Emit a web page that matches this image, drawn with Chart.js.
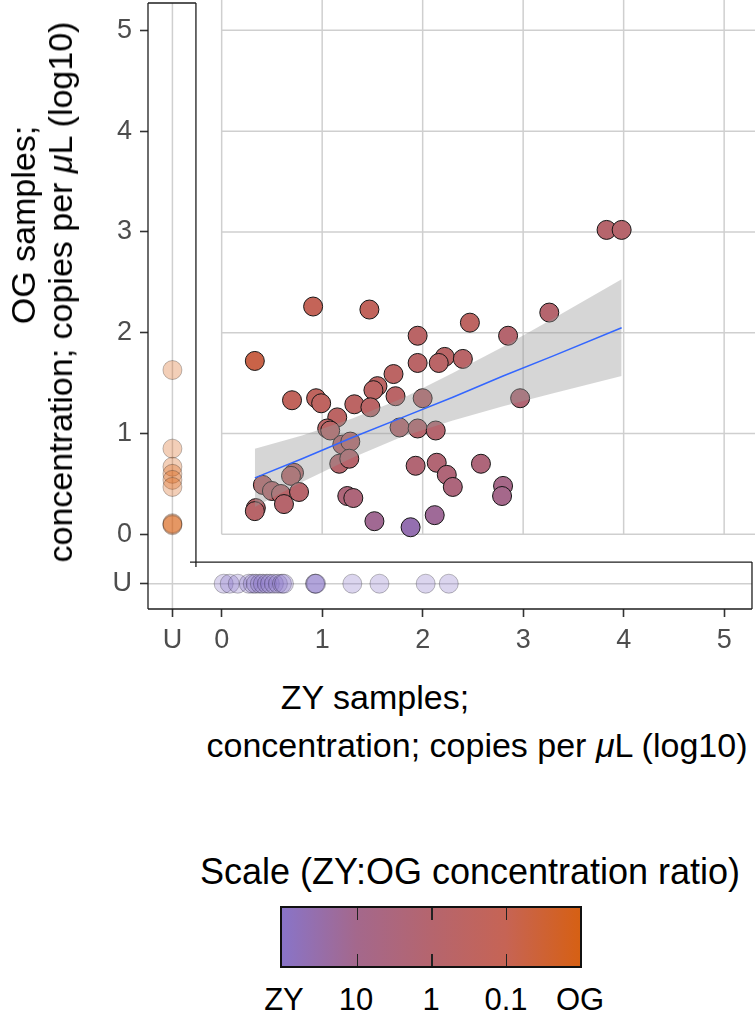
<!DOCTYPE html>
<html>
<head>
<meta charset="utf-8">
<script src="https://cdn.jsdelivr.net/npm/chart.js@4.4.1/dist/chart.umd.min.js"></script>
<style>
  body { margin: 0; background: #fff; font-family: "Liberation Sans", Arial, sans-serif; }
  #wrap { position: relative; width: 755px; height: 1012px; overflow: hidden; }
  #graph { position: absolute; left: 0; top: 0; }
  .t { position: absolute; white-space: nowrap; line-height: 1; color: #000; transform: translate(-50%, -50%); }
  .rot { transform: translate(-50%, -50%) rotate(-90deg); }
  .ttl { font-size: 34px; }
  #bar { position: absolute; left: 280px; top: 906px; width: 298px; height: 58px; border: 2px solid #111;
         background: linear-gradient(to right, rgb(137,116,200), rgb(164,104,140) 25%, rgb(181,101,110) 50%, rgb(198,100,85) 75%, rgb(214,96,20)); }
  .btick { position: absolute; width: 1.5px; height: 12px; background: #222; }
  .lab { font-size: 31px; }
</style>
</head>
<body>
<div id="wrap">
  <canvas id="graph" width="755" height="660"></canvas>

  <div class="t rot ttl" style="left:23px; top:225px;">OG samples;</div>
  <div class="t rot ttl" style="left:60px; top:292px;">concentration; copies per <i>μ</i>L (log10)</div>

  <div class="t ttl" style="left:375px; top:697px;">ZY samples;</div>
  <div class="t ttl" style="left:477px; top:745px;">concentration; copies per <i>μ</i>L (log10)</div>

  <div class="t" style="left:470px; top:872px; font-size:36px;">Scale (ZY:OG concentration ratio)</div>
  <div id="bar">
    <div class="btick" style="left:25%; top:0;"></div>
    <div class="btick" style="left:25%; bottom:0;"></div>
    <div class="btick" style="left:50%; top:0;"></div>
    <div class="btick" style="left:50%; bottom:0;"></div>
    <div class="btick" style="left:75%; top:0;"></div>
    <div class="btick" style="left:75%; bottom:0;"></div>
  </div>
  <div class="t lab" style="left:284px; top:999px;">ZY</div>
  <div class="t lab" style="left:356px; top:999px;">10</div>
  <div class="t lab" style="left:431px; top:999px;">1</div>
  <div class="t lab" style="left:506px; top:999px;">0.1</div>
  <div class="t lab" style="left:580px; top:999px;">OG</div>
</div>

<script>
// value used for "undetected" on both axes
const U = -0.49;

// paired samples: ZY and OG concentrations (log10)
const zyBoth = [0.91, 1.47, 2.47, 0.33, 1.95, 2.22, 2.16, 2.40, 1.95, 1.71, 1.55, 1.51, 1.73, 2.00, 0.70, 0.94,
                0.99, 1.32, 1.48, 1.15, 1.05, 1.08, 1.77, 1.95, 2.13, 1.20, 1.28, 1.17, 1.27, 1.93, 2.14, 2.24,
                2.30, 2.58, 0.72, 0.69, 0.41, 0.50, 0.59, 0.77, 0.62, 0.34, 0.33, 1.25, 1.31, 1.52, 1.88, 2.12,
                3.83, 3.98, 3.26, 2.85, 2.97, 2.80, 2.79];
const ogBoth = [2.26, 2.23, 2.10, 1.72, 1.97, 1.76, 1.70, 1.74, 1.70, 1.59, 1.47, 1.43, 1.37, 1.35, 1.33, 1.35,
                1.30, 1.29, 1.26, 1.16, 1.05, 1.03, 1.06, 1.05, 1.03, 0.89, 0.92, 0.70, 0.75, 0.68, 0.71, 0.59,
                0.47, 0.70, 0.61, 0.58, 0.49, 0.43, 0.40, 0.42, 0.30, 0.26, 0.23, 0.38, 0.36, 0.13, 0.07, 0.19,
                3.02, 3.02, 2.20, 1.97, 1.35, 0.48, 0.38];
// ZY:OG ratio of each paired sample (log10)
const ratioLog = [-0.88, -0.72, -0.48, -1.2, -0.32, -0.32, -0.28, -0.24, -0.28, -0.4, -0.4, -0.4, -0.28, -0.2, -0.72, -0.64,
                  -0.56, -0.4, -0.32, -0.4, -0.32, -0.32, -0.08, -0.08, 0, -0.2, -0.2, -0.08, -0.08, 0.2, 0.2, 0.32,
                  0.48, 0.4, -0.24, -0.24, -0.24, -0.2, -0.2, -0.12, -0.08, -0.2, -0.2, 0.4, 0.4, 1.12, 1.6, 1.2,
                  -0.08, -0.08, 0, 0, 0.2, 0.88, 0.96];

// only one site detected
const ogOnly = [1.63, 0.85, 0.67, 0.60, 0.54, 0.47, 0.11, 0.09, 0.10];
const zyOnly = [0.02, 0.08, 0.16, 0.27, 0.31, 0.34, 0.38, 0.41, 0.45, 0.48, 0.52, 0.56, 0.60, 0.62,
                0.93, 0.93, 0.94, 1.30, 1.57, 2.03, 2.26];

// linear fit with 95% band
const fitX     = [0.33, 0.8, 1.3, 1.8, 2.3, 2.8, 3.3, 3.98];
const fitY     = [0.56, 0.75, 0.96, 1.16, 1.36, 1.57, 1.77, 2.05];
const fitUpper = [0.85, 0.98, 1.15, 1.35, 1.60, 1.86, 2.14, 2.53];
const fitLower = [0.27, 0.52, 0.76, 0.97, 1.13, 1.27, 1.40, 1.57];

const tickValues = [U, 0, 1, 2, 3, 4, 5];
const tickLabels = ['U', '0', '1', '2', '3', '4', '5'];
const gridValues = [0, 1, 2, 3, 4, 5];

// colour scale ZY -> 10 -> 1 -> 0.1 -> OG
const scaleStops = [[137, 116, 200], [164, 104, 140], [181, 101, 110], [198, 100, 85], [214, 96, 20]];

function scaleColour(t, alpha) {
    t = Math.max(0, Math.min(1, t)) * 4;
    const i = Math.min(3, Math.floor(t));
    const f = t - i;
    const a = scaleStops[i], b = scaleStops[i + 1];
    const c = a.map((v, k) => Math.round(v + (b[k] - v) * f));
    return `rgba(${c[0]},${c[1]},${c[2]},${alpha})`;
}

const pts = (xs, ys) => xs.map((x, i) => ({ x: x, y: ys[i] }));

// frame pieces of the panel, in axis units
const frame = { left: -0.733, right: 5.277, bottom: -0.741, top: 5.271,
                stripRight: -0.256, stripEnd: -0.324, stripTop: -0.275, stripStart: -0.315 };

const panelLines = {
    id: 'panelLines',
    beforeDatasetsDraw(chart) {
        const { ctx, scales: { x, y } } = chart;
        const seg = (x1, y1, x2, y2) => {
            ctx.beginPath();
            ctx.moveTo(x.getPixelForValue(x1), y.getPixelForValue(y1));
            ctx.lineTo(x.getPixelForValue(x2), y.getPixelForValue(y2));
            ctx.stroke();
        };
        ctx.save();
        ctx.strokeStyle = '#cfcfcf';
        ctx.lineWidth = 1.5;
        gridValues.forEach(v => {
            seg(v, 0, v, y.max);
            seg(0, v, x.max, v);
        });
        seg(U, frame.bottom, U, frame.top);
        seg(frame.left, U, frame.right, U);

        ctx.strokeStyle = '#1e1e1e';
        ctx.lineWidth = 1.3;
        seg(frame.left, frame.top, frame.left, frame.bottom);
        seg(frame.left, frame.bottom, frame.right, frame.bottom);
        seg(frame.right, frame.bottom, frame.right, frame.stripTop);
        seg(frame.left, frame.top, frame.stripRight, frame.top);
        seg(frame.stripRight, frame.top, frame.stripRight, frame.stripEnd);
        seg(frame.stripStart, frame.stripTop, frame.right, frame.stripTop);
        ctx.restore();
    }
};

const axisTicks = (scale) => { scale.ticks = tickValues.map(v => ({ value: v })); };
const tickText = (v) => tickLabels[tickValues.indexOf(v)];
const noPadding = (s) => { s.paddingTop = 0; s.paddingBottom = 0; s.paddingLeft = 0; s.paddingRight = 0; };

new Chart(document.querySelector('#graph').getContext('2d'), {
    type: 'scatter',
    data: {
        datasets: [
            {
                type: 'line',
                data: pts(fitX, fitY),
                borderColor: '#3366FF',
                borderWidth: 1.5,
                pointRadius: 0,
                order: 0
            },
            {
                type: 'line',
                data: pts(fitX, fitUpper),
                borderWidth: 0,
                pointRadius: 0,
                fill: '+1',
                backgroundColor: 'rgba(153,153,153,0.4)',
                order: 1
            },
            {
                type: 'line',
                data: pts(fitX, fitLower),
                borderWidth: 0,
                pointRadius: 0,
                fill: false,
                order: 1
            },
            {
                data: pts(zyBoth, ogBoth),
                backgroundColor: ratioLog.map(r => scaleColour(0.5 - r / 4, 1)),
                borderColor: '#151515',
                borderWidth: 1,
                pointRadius: 9.5,
                order: 2
            },
            {
                data: ogOnly.map(v => ({ x: U, y: v })),
                backgroundColor: scaleColour(1, 0.3),
                borderColor: 'rgba(0,0,0,0.25)',
                borderWidth: 1,
                pointRadius: 9.5,
                order: 3
            },
            {
                data: zyOnly.map(v => ({ x: v, y: U })),
                backgroundColor: scaleColour(0, 0.3),
                borderColor: 'rgba(0,0,0,0.25)',
                borderWidth: 1,
                pointRadius: 9.5,
                order: 3
            }
        ]
    },
    options: {
        responsive: false,
        animation: false,
        layout: { padding: 0, autoPadding: false },
        plugins: { legend: { display: false }, tooltip: { enabled: false } },
        scales: {
            x: {
                type: 'linear',
                min: -0.733,
                max: 5.307,
                afterBuildTicks: axisTicks,
                afterFit: (s) => { s.height = 51; noPadding(s); },
                ticks: {
                    autoSkip: false,
                    maxRotation: 0,
                    callback: tickText,
                    color: '#4d4d4d',
                    padding: 7,
                    font: { family: '"Liberation Sans", Arial, sans-serif', size: 27 }
                },
                grid: { drawOnChartArea: false, tickLength: 8, tickColor: '#333', tickWidth: 1.6 },
                border: { display: false }
            },
            y: {
                type: 'linear',
                min: -0.741,
                max: 5.301,
                afterBuildTicks: axisTicks,
                afterFit: (s) => { s.width = 148; noPadding(s); },
                ticks: {
                    autoSkip: false,
                    callback: tickText,
                    color: '#4d4d4d',
                    padding: 8,
                    font: { family: '"Liberation Sans", Arial, sans-serif', size: 27 }
                },
                grid: { drawOnChartArea: false, tickLength: 8, tickColor: '#333', tickWidth: 1.6 },
                border: { display: false }
            }
        }
    },
    plugins: [panelLines]
});
</script>
</body>
</html>
